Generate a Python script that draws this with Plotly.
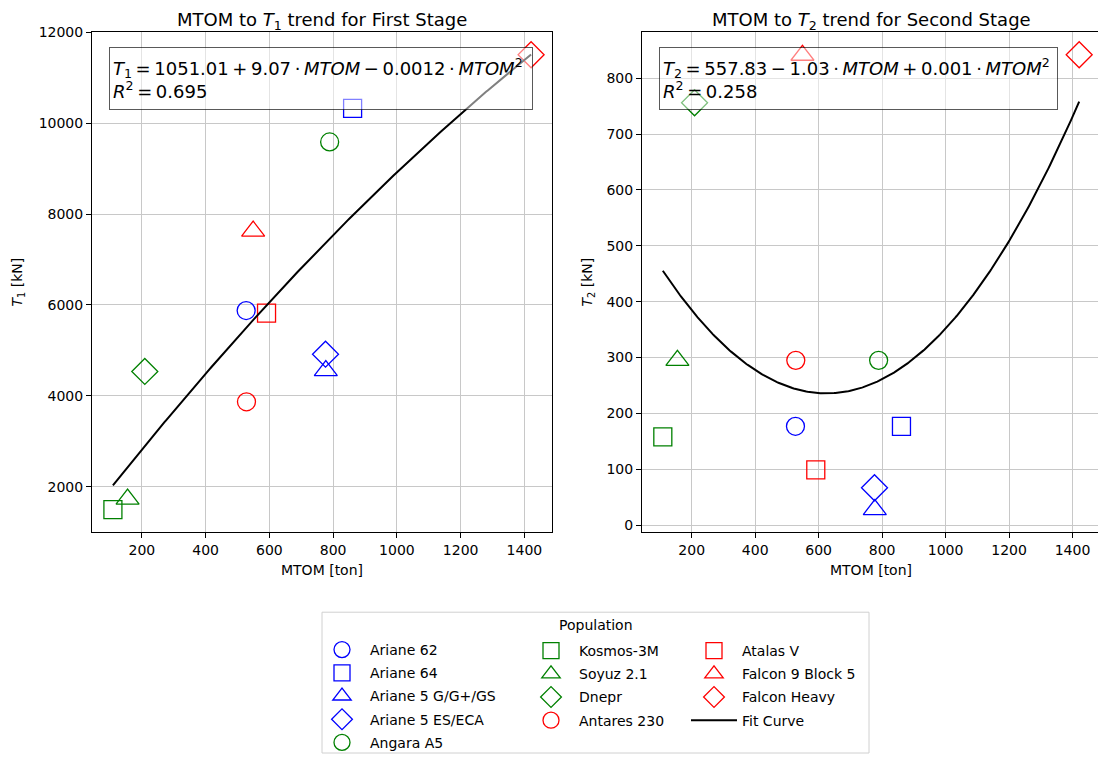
import numpy as np
import plotly.graph_objects as go

# ---------------- data ----------------
vehicles = ["Ariane 62", "Ariane 64", "Ariane 5 G/G+/GS", "Ariane 5 ES/ECA", "Angara A5",
            "Kosmos-3M", "Soyuz 2.1", "Dnepr", "Antares 230",
            "Atalas V", "Falcon 9 Block 5", "Falcon Heavy"]
mtom_ton = [527, 861, 777, 776, 789, 109, 155, 209, 528, 591, 549, 1421]
t1_kn = [5877, 10330, 4554, 4916, 9589, 1495, 1725, 4536, 3868, 5818, 7626, 11510]
t2_kn = [177, 177, 28, 67, 295, 158, 295, 756, 295, 99, 841, 842]
colors = ["blue", "blue", "blue", "blue", "green", "green", "green", "green",
          "red", "red", "red", "red"]
symbols = ["circle", "square", "triangle-up", "diamond"] * 3
legend_col = ["legend"] * 5 + ["legend2"] * 4 + ["legend3"] * 3

# quadratic fit coefficients (c0, c1, c2)
fit_t1 = [1051.01, 9.07, -0.0012]
fit_t2 = [557.83, -1.03, 0.000824]
TS = "\u2009"
eq_t1 = (f"<i>T</i><sub>1</sub>{TS}={TS}1051.01{TS}+{TS}9.07{TS}·{TS}<i>MTOM</i>{TS}−{TS}0.0012{TS}·{TS}"
         f"<i>MTOM</i><sup>2</sup><br><i>R</i><sup>2</sup>{TS}={TS}0.695")
eq_t2 = (f"<i>T</i><sub>2</sub>{TS}={TS}557.83{TS}−{TS}1.03{TS}·{TS}<i>MTOM</i>{TS}+{TS}0.001{TS}·{TS}"
         f"<i>MTOM</i><sup>2</sup><br><i>R</i><sup>2</sup>{TS}={TS}0.258")

W, H = 1106, 758
OFF = 8  # page body margin
FW, FH = W - OFF, H - OFF
FONT = "DejaVu Sans"
msize = {"circle": 18, "square": 18, "triangle-up": 20, "diamond": 20}


def px_x(p):
    return (p - OFF) / FW


def px_y(p):
    return (H - p) / FH


def pad_range(vals):
    lo, hi = min(vals), max(vals)
    s = hi - lo
    return [lo - 0.05 * s, hi + 0.05 * s]


fig = go.Figure()
for i, name in enumerate(vehicles):
    mk = dict(symbol=symbols[i] + "-open", size=msize[symbols[i]], color=colors[i],
              line=dict(width=1.3, color=colors[i]))
    fig.add_trace(go.Scatter(x=[mtom_ton[i]], y=[t1_kn[i]], mode="markers", name=name,
                             legendgroup=name, legend=legend_col[i], marker=mk,
                             xaxis="x", yaxis="y", showlegend=True))
    fig.add_trace(go.Scatter(x=[mtom_ton[i]], y=[t2_kn[i]], mode="markers", name=name,
                             legendgroup=name, legend=legend_col[i], marker=mk,
                             xaxis="x2", yaxis="y2", showlegend=False))

xfit = np.linspace(min(mtom_ton), max(mtom_ton), 300)
y1fit = fit_t1[0] + fit_t1[1] * xfit + fit_t1[2] * xfit ** 2
y2fit = fit_t2[0] + fit_t2[1] * xfit + fit_t2[2] * xfit ** 2
fig.add_trace(go.Scatter(x=xfit, y=y1fit, mode="lines", name="Fit Curve", legendgroup="fit",
                         legend="legend3", line=dict(color="black", width=2),
                         xaxis="x", yaxis="y", showlegend=True))
fig.add_trace(go.Scatter(x=xfit, y=y2fit, mode="lines", name="Fit Curve", legendgroup="fit",
                         legend="legend3", line=dict(color="black", width=2),
                         xaxis="x2", yaxis="y2", showlegend=False))

xr = pad_range(mtom_ton)
ax_common = dict(showline=True, linecolor="black", linewidth=1, mirror=True,
                 ticks="outside", ticklen=5, tickcolor="black", tickwidth=1,
                 showgrid=True, gridcolor="#c8c8c8", gridwidth=1, zeroline=False,
                 tickfont=dict(family=FONT, size=14, color="black"),
                 automargin=False)
ydom = [px_y(533), px_y(32)]

fig.update_layout(
    width=FW, height=FH,
    margin=dict(l=0, r=0, t=0, b=0),
    paper_bgcolor="white", plot_bgcolor="white",
    font=dict(family=FONT, size=14, color="black"),
    xaxis=dict(domain=[px_x(92), px_x(552)], range=xr, dtick=200, tick0=0, anchor="y",
               title=dict(text="MTOM [ton]", font=dict(family=FONT, size=14), standoff=8),
               **ax_common),
    yaxis=dict(domain=ydom, range=pad_range(t1_kn), dtick=2000, tick0=0, anchor="x",
               tickformat="d",
               title=dict(text="<i>T</i><sub>1</sub> [kN]", font=dict(family=FONT, size=14),
                          standoff=12),
               **ax_common),
    xaxis2=dict(domain=[px_x(642), px_x(1100)], range=xr, dtick=200, tick0=0, anchor="y2",
                title=dict(text="MTOM [ton]", font=dict(family=FONT, size=14), standoff=8),
                **ax_common),
    yaxis2=dict(domain=ydom, range=pad_range(t2_kn), dtick=100, tick0=0, anchor="x2",
                tickformat="d",
                title=dict(text="<i>T</i><sub>2</sub> [kN]", font=dict(family=FONT, size=14),
                           standoff=10),
                **ax_common),
)

leg_common = dict(xanchor="left", yanchor="top", bgcolor="rgba(0,0,0,0)", borderwidth=0,
                  font=dict(family=FONT, size=14, color="black"), tracegroupgap=2,
                  itemsizing="trace", orientation="v", itemwidth=46)
fig.update_layout(
    legend=dict(x=px_x(314), y=px_y(635), **leg_common),
    legend2=dict(x=px_x(523), y=px_y(635), **leg_common),
    legend3=dict(x=px_x(686), y=px_y(635), **leg_common),
)

# legend frame and title
fig.add_shape(type="rect", xref="paper", yref="paper",
              x0=px_x(322), x1=px_x(869), y0=px_y(754), y1=px_y(613),
              line=dict(color="#d0d0d0", width=1), fillcolor="rgba(255,255,255,0)", layer="below")
annos = [
    dict(text="Population", x=px_x(596), y=px_y(626), xref="paper", yref="paper",
         showarrow=False, xanchor="center", yanchor="middle",
         font=dict(family=FONT, size=14, color="black")),
    dict(text="MTOM to <i>T</i><sub>1</sub> trend for First Stage", x=px_x(322), y=1.0,
         xref="paper", yref="paper", showarrow=False, xanchor="center", yanchor="top",
         borderpad=0, font=dict(family=FONT, size=18, color="black")),
    dict(text="MTOM to <i>T</i><sub>2</sub> trend for Second Stage", x=px_x(871), y=1.0,
         xref="paper", yref="paper", showarrow=False, xanchor="center", yanchor="top",
         borderpad=0, font=dict(family=FONT, size=18, color="black")),
    dict(text=eq_t1, x=px_x(109), y=px_y(47), xref="paper", yref="paper", showarrow=False,
         xanchor="left", yanchor="top", align="left", valign="middle",
         width=416, height=55, borderpad=3, borderwidth=1,
         bordercolor="rgba(0,0,0,0.65)", bgcolor="rgba(255,255,255,0.5)",
         font=dict(family=FONT, size=18, color="black")),
    dict(text=eq_t2, x=px_x(659), y=px_y(47), xref="paper", yref="paper", showarrow=False,
         xanchor="left", yanchor="top", align="left", valign="middle",
         width=391, height=55, borderpad=3, borderwidth=1,
         bordercolor="rgba(0,0,0,0.65)", bgcolor="rgba(255,255,255,0.5)",
         font=dict(family=FONT, size=18, color="black")),
]
fig.update_layout(annotations=annos)

fig.write_html("out.html")
